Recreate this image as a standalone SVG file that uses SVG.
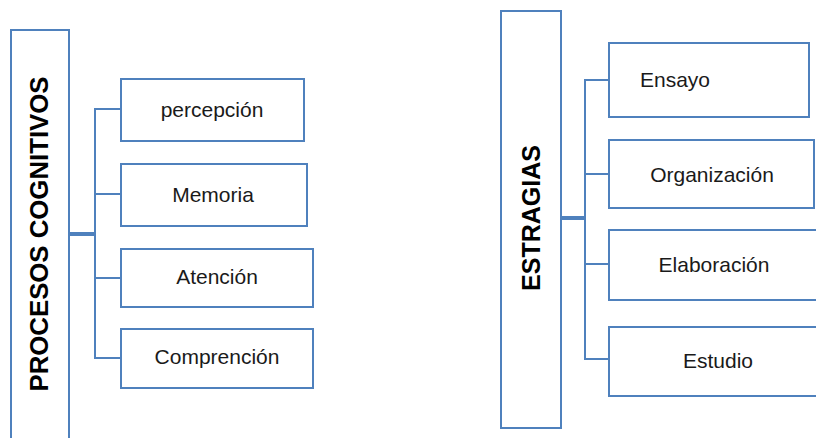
<svg xmlns="http://www.w3.org/2000/svg" width="816" height="438" viewBox="0 0 816 438">
<style>
.box{fill:#fff;stroke:#4F81BD;stroke-width:2}
.ln{fill:none;stroke:#4F81BD;stroke-width:2}
.thick{fill:none;stroke:#4F81BD;stroke-width:4}
.t{font-family:"Liberation Sans",Arial,sans-serif;font-size:21px;fill:#1a1a1a;text-anchor:middle}
.h{font-family:"Liberation Sans",Arial,sans-serif;font-size:25px;font-weight:bold;fill:#000;text-anchor:middle}
</style>
<rect width="816" height="438" fill="#fff"/>
<g id="connectors">
<line class="thick" x1="69" y1="234" x2="95" y2="234"/>
<path class="ln" d="M121 109H95V358H121M95 194H121M95 278H121"/>
<line class="thick" x1="561" y1="218" x2="585" y2="218"/>
<path class="ln" d="M609 80H585V359H609M585 174H609M585 264H609"/>
</g>
<g id="procesos">
<rect class="box" x="11" y="30" width="58" height="420"/>
<text class="h" transform="translate(48 234) rotate(-90)" textLength="315" lengthAdjust="spacingAndGlyphs">PROCESOS COGNITIVOS</text>
</g>
<g id="percepcion"><rect class="box" x="121" y="79" width="183" height="62"/><text class="t" x="212" y="117">percepción</text></g>
<g id="memoria"><rect class="box" x="121" y="164" width="186" height="62"/><text class="t" x="213" y="202">Memoria</text></g>
<g id="atencion"><rect class="box" x="121" y="249" width="192" height="58"/><text class="t" x="217" y="284">Atención</text></g>
<g id="comprencion"><rect class="box" x="121" y="329" width="192" height="59"/><text class="t" x="217" y="364">Comprención</text></g>
<g id="estragias">
<rect class="box" x="501" y="11" width="60" height="417"/>
<text class="h" transform="translate(540 218) rotate(-90)">ESTRAGIAS</text>
</g>
<g id="ensayo"><rect class="box" x="609" y="43" width="200" height="74"/><text class="t" x="675" y="87">Ensayo</text></g>
<g id="organizacion"><rect class="box" x="609" y="140" width="205" height="68"/><text class="t" x="712" y="182">Organización</text></g>
<g id="elaboracion"><rect class="box" x="609" y="230" width="220" height="70"/><text class="t" x="714" y="272">Elaboración</text></g>
<g id="estudio"><rect class="box" x="609" y="327" width="220" height="69"/><text class="t" x="718" y="368">Estudio</text></g>
</svg>
